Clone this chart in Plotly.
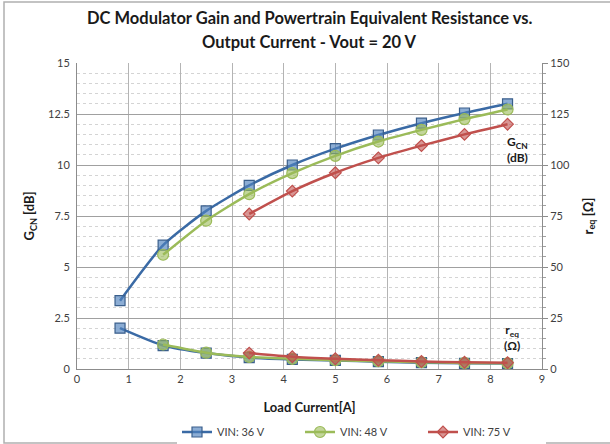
import plotly.graph_objects as go

load_current = [0.833, 1.667, 2.5, 3.333, 4.167, 5.0, 5.833, 6.667, 7.5, 8.333]

gain_36 = [3.35, 6.07, 7.75, 9.0, 10.0, 10.8, 11.47, 12.05, 12.55, 13.0]
gain_48 = [None, 5.6, 7.27, 8.57, 9.6, 10.45, 11.15, 11.72, 12.25, 12.72]
gain_75 = [None, None, None, 7.6, 8.72, 9.62, 10.35, 10.95, 11.5, 12.0]

req_36 = [20.0, 11.5, 7.8, 5.6, 4.7, 4.2, 3.6, 3.1, 2.8, 2.7]
req_48 = [None, 12.0, 8.0, 5.9, 5.0, 4.3, 3.8, 3.3, 3.0, 2.8]
req_75 = [None, None, None, 7.8, 6.0, 5.0, 4.3, 3.7, 3.3, 3.1]

series_names = ["VIN: 36 V", "VIN: 48 V", "VIN: 75 V"]
y_ticks_left = [0, 2.5, 5, 7.5, 10, 12.5, 15]
y_tick_labels_left = ["0", "2.5", "5", "7.5", "10", "12.5", "15"]
y_ticks_right = [0, 25, 50, 75, 100, 125, 150]
title_lines = ["DC Modulator Gain and Powertrain Equivalent Resistance vs.",
               "Output Current - Vout = 20 V"]

FONT = "Lato, 'Open Sans', sans-serif"

# plot area in pixels
L, R, T, B = 77, 542, 63, 369
W, H = 610, 444
PW, PH = R - L, B - T


def py(px):
    return (B - px) / PH


def pxx(px):
    return (px - L) / PW


styles = [
    dict(line="#3a6aa5", fill="rgba(79,129,189,0.65)", edge="#3a5f8c", symbol="square", size=10),
    dict(line="#9bbb59", fill="rgba(155,187,89,0.6)", edge="#9bbb59", symbol="circle", size=11),
    dict(line="#c0504d", fill="rgba(192,80,77,0.6)", edge="#c0504d", symbol="diamond", size=9),
]

fig = go.Figure()

gains = [gain_36, gain_48, gain_75]
reqs = [req_36, req_48, req_75]

for name, g, st in zip(series_names, gains, styles):
    fig.add_trace(go.Scatter(
        x=load_current, y=g, name=name, mode="lines+markers",
        line=dict(color=st["line"], width=2.5, shape="spline", smoothing=0.6),
        marker=dict(symbol=st["symbol"], size=st["size"], color=st["fill"],
                    line=dict(color=st["edge"], width=1.2)),
        legendgroup=name, yaxis="y",
    ))

for name, r, st in zip(series_names, reqs, styles):
    fig.add_trace(go.Scatter(
        x=load_current, y=r, name=name, mode="lines+markers",
        line=dict(color=st["line"], width=2.5, shape="spline", smoothing=0.6),
        marker=dict(symbol=st["symbol"], size=st["size"], color=st["fill"],
                    line=dict(color=st["edge"], width=1.2)),
        legendgroup=name, showlegend=False, yaxis="y2",
    ))

annotations = [
    dict(x=0.5, y=py(18), xref="paper", yref="paper", showarrow=False,
         xanchor="center", yanchor="middle",
         text="<b>" + title_lines[0] + "</b>", font=dict(size=16.5, color="#1a1a1a")),
    dict(x=0.5, y=py(42), xref="paper", yref="paper", showarrow=False,
         xanchor="center", yanchor="middle",
         text="<b>" + title_lines[1] + "</b>", font=dict(size=16.5, color="#1a1a1a")),
    dict(x=8.52, y=10.75, xref="x", yref="y", showarrow=False,
         text="<b>G<sub>CN</sub><br>(dB)</b>", font=dict(size=12, color="#1a1a1a")),
    dict(x=8.42, y=1.55, xref="x", yref="y", showarrow=False,
         text="<b>r<sub>eq</sub><br>(Ω)</b>", font=dict(size=12, color="#1a1a1a")),
]

fig.update_layout(
    width=W, height=H,
    paper_bgcolor="white", plot_bgcolor="white",
    margin=dict(l=L, r=W - R, t=T, b=H - B, autoexpand=False),
    font=dict(family=FONT, size=11, color="#404040"),
    hovermode=False,
    xaxis=dict(
        range=[0, 9], dtick=1, tick0=0,
        showgrid=True, gridcolor="#b4b4b4", gridwidth=1,
        showline=True, linecolor="#8c8c8c", linewidth=1,
        ticks="", zeroline=False,
        title=dict(text="<b>Load Current[A]</b>", font=dict(size=13, color="#1a1a1a"), standoff=18),
        tickfont=dict(size=11, color="#404040"),
        automargin=False,
    ),
    yaxis=dict(
        range=[0, 15], tickvals=y_ticks_left, ticktext=y_tick_labels_left,
        showgrid=True, gridcolor="#a0a0a0", gridwidth=1,
        showline=True, linecolor="#8c8c8c", linewidth=1,
        ticks="", zeroline=False,
        minor=dict(dtick=0.5, showgrid=True, gridcolor="#d4d4d4", griddash="dot", gridwidth=1),
        title=dict(text="<b>G<sub>CN</sub> [dB]</b>", font=dict(size=13, color="#1a1a1a"), standoff=10),
        tickfont=dict(size=11, color="#404040"), ticklabelstandoff=4,
        automargin=False,
    ),
    yaxis2=dict(
        range=[0, 150], tickvals=y_ticks_right, overlaying="y", side="right",
        showgrid=False, zeroline=False,
        showline=True, linecolor="#8c8c8c", linewidth=1,
        ticks="outside", ticklen=5, tickcolor="#8c8c8c",
        minor=dict(dtick=5, ticks="outside", ticklen=3, tickcolor="#a0a0a0", showgrid=False),
        title=dict(text="<b>r<sub>eq</sub> [Ω]</b>", font=dict(size=13, color="#1a1a1a"), standoff=14),
        tickfont=dict(size=11, color="#404040"),
        automargin=False,
    ),
    legend=dict(
        orientation="h", x=pxx(177), xanchor="left", y=py(432), yanchor="middle",
        font=dict(size=11, color="#404040"), entrywidth=78, entrywidthmode="pixels",
        itemwidth=30, tracegroupgap=0,
    ),
    showlegend=True,
    annotations=annotations,
    shapes=[
        dict(type="rect", xref="paper", yref="paper",
             x0=pxx(4), x1=pxx(614),
             y0=py(443), y1=py(2),
             line=dict(color="#b0b0b0", width=1.5), fillcolor="rgba(0,0,0,0)", layer="below"),
    ],
)

fig.write_html(
    "out.html",
    config={"displayModeBar": False},
    post_script="document.body.style.margin='0';document.body.style.padding='0';",
)
